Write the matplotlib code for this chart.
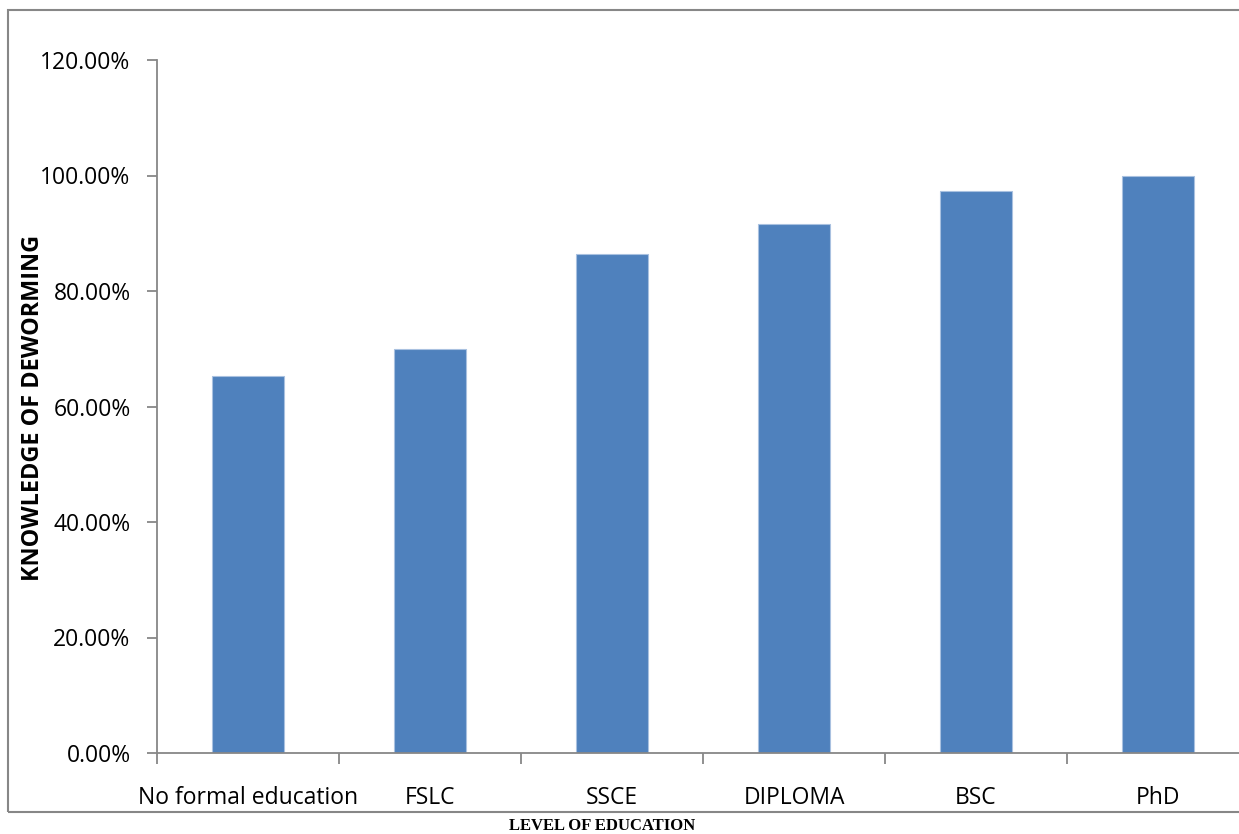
import matplotlib.pyplot as plt
from matplotlib.patches import Rectangle
from matplotlib.ticker import FuncFormatter, MultipleLocator, FixedLocator

levels = ["No formal education", "FSLC", "SSCE", "DIPLOMA", "BSC", "PhD"]
knowledge = [65.3, 70.0, 86.4, 91.6, 97.4, 100.0]

W, H = 1239, 834
fig = plt.figure(figsize=(W / 100, H / 100), dpi=100)

# chart area frame
fig.patches.append(Rectangle((8 / W, 1 - 812 / H), (W + 20) / W, (812 - 10) / H,
                             transform=fig.transFigure, fill=False,
                             edgecolor="#878787", linewidth=1.5))

ax = fig.add_axes([157 / W, 1 - 753 / H, (1249 - 157) / W, (753 - 60) / H])
x = range(len(levels))
ax.bar(x, knowledge, width=0.4, color="#4F81BD", edgecolor="#A9C1E0", linewidth=0.8)

ax.set_xlim(-0.5, len(levels) - 0.5)
ax.set_ylim(0, 120)
ax.yaxis.set_major_locator(MultipleLocator(20))
ax.yaxis.set_major_formatter(FuncFormatter(lambda v, p: f"{v:.2f}%"))
ax.xaxis.set_major_locator(FixedLocator([i - 0.5 for i in range(len(levels) + 1)]))
ax.xaxis.set_minor_locator(FixedLocator(list(x)))
ax.set_xticklabels([])
ax.set_xticklabels(levels, minor=True)

for s in ["top", "right"]:
    ax.spines[s].set_visible(False)
for s in ["left", "bottom"]:
    ax.spines[s].set_color("#878787")
    ax.spines[s].set_linewidth(1.3)

ax.tick_params(axis="y", length=7, width=1.3, color="#878787", labelsize=16.5, pad=12)
ax.tick_params(axis="x", which="major", length=8, width=1.3, color="#878787")
ax.tick_params(axis="x", which="minor", length=0, labelsize=16.5, pad=24)
for lab in ax.get_yticklabels() + ax.get_xticklabels(minor=True):
    lab.set_fontfamily("Open Sans")

fig.text(33 / W, 1 - 408 / H, "KNOWLEDGE OF DEWORMING", rotation=90,
         ha="center", va="center", fontsize=16.8, fontweight="bold", family="Open Sans")
fig.text(602 / W, 1 - 826 / H, "LEVEL OF EDUCATION", ha="center", va="center",
         fontsize=12, fontweight="bold", family="Liberation Serif")

fig.savefig("out.png", dpi=100)
